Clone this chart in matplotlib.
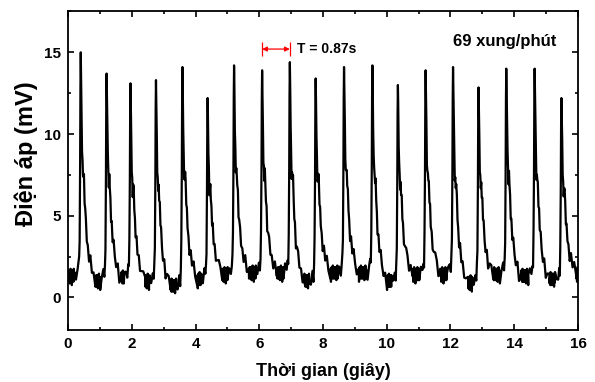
import numpy as np
import matplotlib.pyplot as plt
from matplotlib.ticker import MultipleLocator

plt.rcParams['font.family'] = ['Liberation Sans', 'DejaVu Sans']
plt.rcParams['font.weight'] = 'bold'

# peaks of the pulse wave (s, mV)
peak_t = [0.40, 1.21, 1.96, 2.76, 3.59, 4.38, 5.21, 6.09, 6.96, 7.77,
          8.66, 9.55, 10.35, 11.22, 12.08, 12.88, 13.75, 14.64, 15.48]
peak_v = [15.0, 13.7, 13.1, 13.3, 14.1, 12.2, 14.2, 13.9, 14.4, 13.4,
          14.1, 14.2, 13.0, 13.9, 14.1, 12.85, 14.0, 14.0, 12.2]
# baseline level between beats (first one = before the first beat)
base_v = [1.3, 1.0, 1.2, 1.0, 0.7, 1.1, 1.4, 1.5, 1.5, 1.0,
          1.5, 1.5, 1.0, 1.4, 1.4, 0.9, 1.4, 1.3, 1.1, 1.5]
# one beat: time from peak (s) and fraction of height above baseline
shape_dt = [-0.20, -0.15, -0.10, -0.07, -0.05, -0.035, -0.02, -0.01, 0.0,
            0.01, 0.025, 0.04, 0.055, 0.07, 0.085, 0.10, 0.12, 0.14, 0.16,
            0.19, 0.22, 0.26, 0.30, 0.35, 0.40, 0.46]
shape_f = [0.0, 0.01, 0.03, 0.04, 0.07, 0.18, 0.50, 0.85, 1.0,
           0.90, 0.72, 0.58, 0.50, 0.47, 0.48, 0.45, 0.38, 0.31, 0.25,
           0.19, 0.15, 0.11, 0.08, 0.05, 0.02, 0.0]
# small ripple seen on the trace (mV)
ripple = [0.25, -0.35, 0.35, -0.1, 0.15, -0.45, 0.35, -0.2, 0.45, -0.1,
          -0.35, 0.25, -0.55, 0.1, 0.35, -0.25, 0.1, -0.35, 0.45, -0.2,
          0.25, -0.35, 0.0, 0.35]

t_all, v_all, keep = [], [], []
step = 0.01

def add_flat(t0, t1, level):
    for t in np.arange(t0, t1, step):
        t_all.append(t)
        v_all.append(level)
        keep.append(False)

add_flat(0.0, peak_t[0] + shape_dt[0], base_v[0])
for i, (tp, h) in enumerate(zip(peak_t, peak_v)):
    b0, b1 = base_v[i], base_v[i + 1]
    for dt, f in zip(shape_dt, shape_f):
        b = b0 if dt < 0 else b1
        t_all.append(tp + dt)
        v_all.append(b + f * (h - b))
        keep.append(-0.025 < dt < 0.02)
    t_next = peak_t[i + 1] + shape_dt[0] if i + 1 < len(peak_t) else 16.0
    add_flat(tp + shape_dt[-1] + step, t_next, b1)

t_all = np.array(t_all)
v_all = np.array(v_all)
noise = np.resize(ripple, len(v_all))
noise[np.array(keep)] = 0
v_all = v_all + noise

fig = plt.figure(figsize=(5.95, 3.82), dpi=100)
ax = fig.add_axes([0.1143, 0.1361, 0.8571, 0.8338])
ax.plot(t_all, v_all, color='black', lw=1.6)

ax.set_xlim(0, 16)
ax.set_ylim(-2, 17.5)
ax.xaxis.set_major_locator(MultipleLocator(2))
ax.xaxis.set_minor_locator(MultipleLocator(1))
ax.yaxis.set_major_locator(MultipleLocator(5))
ax.yaxis.set_minor_locator(MultipleLocator(2.5))
ax.tick_params(which='both', direction='in', top=True, right=True,
               labelsize=11, width=1.2, pad=5)
ax.tick_params(which='major', length=4.5)
ax.tick_params(which='minor', length=2.5)
for s in ax.spines.values():
    s.set_linewidth(1.3)

ax.set_xlabel('Thời gian (giây)', fontsize=13, fontweight='bold', labelpad=9)
ax.set_ylabel('Điện áp (mV)', fontsize=17, fontweight='bold')
ax.yaxis.set_label_coords(-0.058, 0.553)

# period marker
ax.annotate('', xy=(6.09, 15.2), xytext=(6.96, 15.2),
            arrowprops=dict(arrowstyle='<|-|>', color='red', lw=0.9,
                            mutation_scale=7, shrinkA=0, shrinkB=0))
ax.vlines([6.09, 6.96], 14.75, 15.65, color='red', lw=0.9)
ax.text(7.2, 15.2, 'T = 0.87s', fontsize=10, fontweight='bold', va='center')
ax.text(15.32, 15.67, '69 xung/phút', fontsize=12, fontweight='bold',
        ha='right', va='center')

fig.savefig('out.png', dpi=100)
